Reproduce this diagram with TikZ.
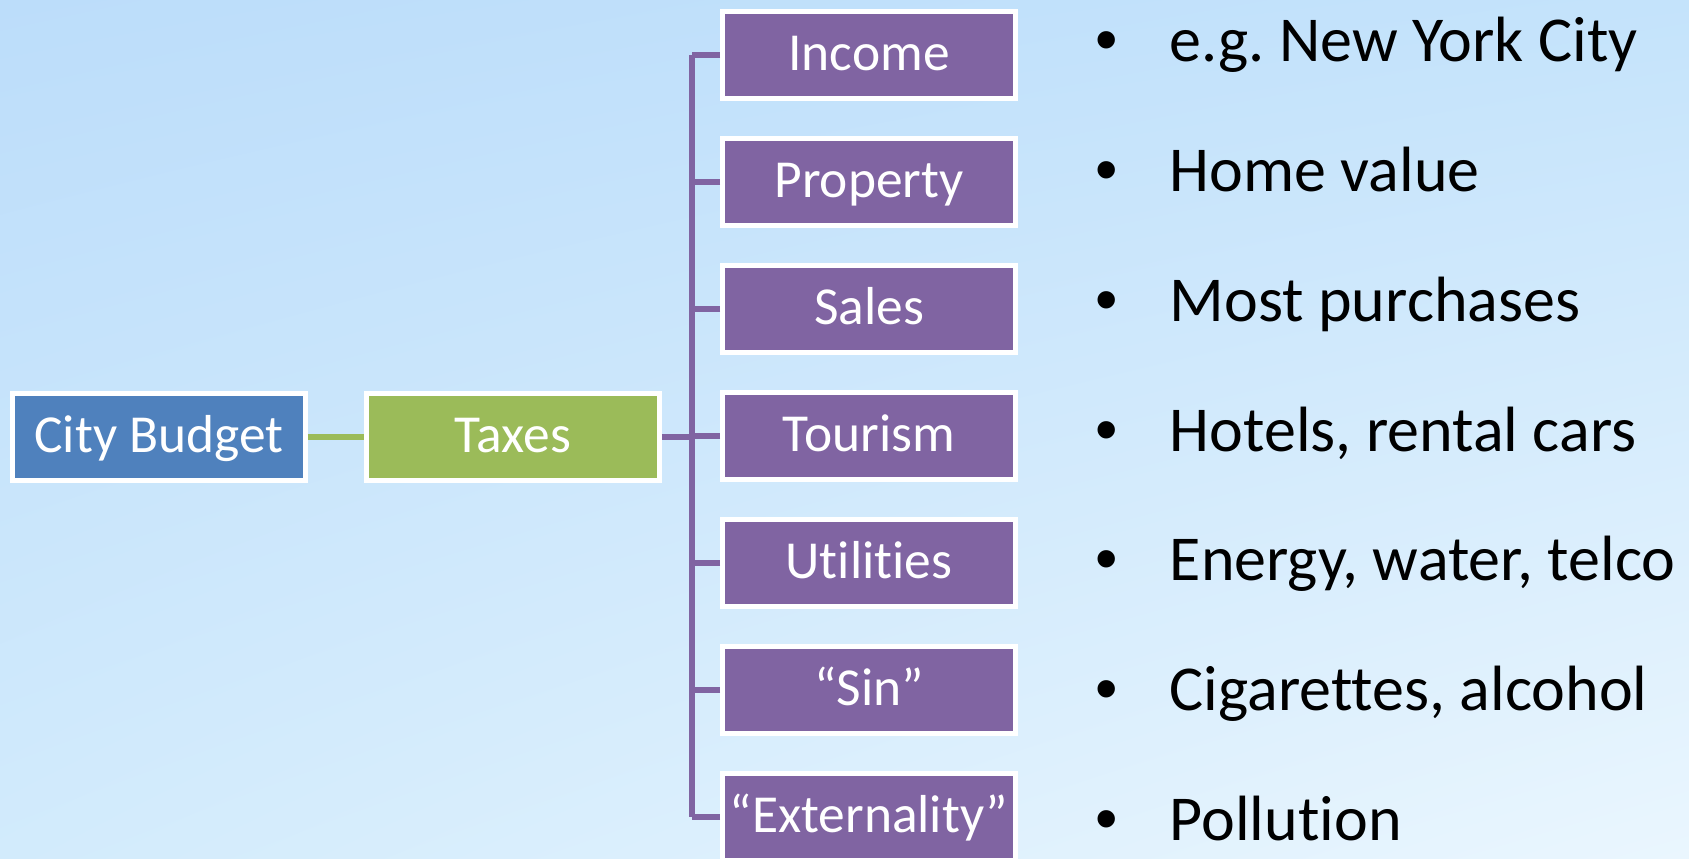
\documentclass[tikz,border=0pt]{standalone}
\usepackage{fontspec}
\setmainfont{Carlito}[Ligatures=NoCommon]
\newfontfamily\bulletfont{Liberation Sans}
\usepackage{tikz}
\usetikzlibrary{positioning,calc,shadings}
\frenchspacing
\definecolor{budgetblue}{HTML}{4F81BD}
\definecolor{taxgreen}{HTML}{9BBB59}
\definecolor{kindpurple}{HTML}{8064A2}
\definecolor{bgtl}{HTML}{BCDDFA}
\definecolor{bgtr}{HTML}{C4E3FB}
\definecolor{bgbl}{HTML}{D2EBFC}
\definecolor{bgbr}{HTML}{EAF6FE}
\tikzset{
  box/.style={draw=white,line width=1.3pt,fill=kindpurple,text=white,
    minimum width=2.93cm,minimum height=0.87cm,inner sep=0pt,
    text height=0.4cm,text depth=0.1cm,font=\fontsize{15.2}{18}\selectfont},
  link/.style={line width=1.6pt,kindpurple},
  item/.style={anchor=base west,inner sep=0pt,font=\fontsize{18.2}{22}\selectfont}
}

\begin{document}
\begin{tikzpicture}[x=0.01cm,y=-0.01cm]
  \clip (0,0) rectangle (1689,858);
  \shade[upper left=bgtl,upper right=bgtr,lower left=bgbl,lower right=bgbr]
    (0,0) rectangle (1689,858);
  \node[box,fill=budgetblue] (budget) at (159,437) {City Budget};
  \node[box,fill=taxgreen] (taxes) at (513,437) {Taxes};
  \draw[link,taxgreen] (budget) -- (taxes);
  \coordinate (trunk) at (692,437);
  \draw[link] (taxes) -- (trunk);
  \foreach \lab/\ex [count=\i] in {
      Income/e.g. New York City,
      Property/Home value,
      Sales/Most purchases,
      Tourism/{Hotels, rental cars},
      Utilities/{Energy, water, telco},
      “Sin”/{Cigarettes, alcohol},
      “Externality”/Pollution} {
    \node[box] (kind\i) at (869,{55+127*(\i-1)}) {\lab};
    \node[item] (ex\i) at (1095,{62+129.7*(\i-1)}) {\makebox[0.74cm][l]{\bulletfont •}\ex};
    \draw[link] (kind\i.west) -- (kind\i.west -| trunk);
  }
  \draw[link] (kind1.west -| trunk) -- (kind7.west -| trunk);
\end{tikzpicture}
\end{document}
